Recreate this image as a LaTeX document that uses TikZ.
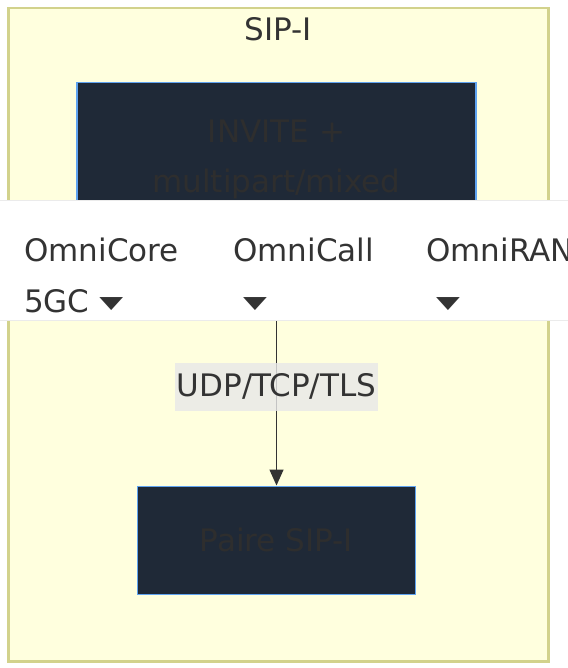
\documentclass[tikz,border=0pt]{standalone}
\usepackage{fontspec}
\setmainfont{DejaVu Sans}
\usetikzlibrary{arrows.meta,positioning}

\definecolor{clusterfill}{HTML}{FFFFDE}
\definecolor{clusterline}{HTML}{D2D28C}
\definecolor{nodefill}{HTML}{1F2937}
\definecolor{nodeline}{HTML}{5FA3F0}
\definecolor{nodetext}{HTML}{2E2E2E}
\definecolor{inktext}{HTML}{333333}
\definecolor{labelfill}{HTML}{E8E8E8}
\newcommand\caret{\raisebox{4pt}{\scalebox{1}[0.55]{▼}}}

\begin{document}
\begin{tikzpicture}[x=1pt,y=-1pt,>={Triangle[width=14pt,length=16pt]},font=\fontsize{31}{50}\selectfont]
  \tikzstyle{cluster}=[draw=clusterline,line width=2.5pt,fill=clusterfill,minimum width=540pt,minimum height=653pt,inner sep=0pt]
  \tikzstyle{box}=[draw=nodeline,line width=1.5pt,fill=nodefill,text=nodetext,align=center,inner sep=0pt]
  \tikzstyle{band}=[draw=black!8,line width=1pt,fill=white,minimum width=580pt,minimum height=120pt,inner sep=0pt]
  \tikzstyle{menuitem}=[anchor=north west,align=left,inner sep=0pt,text=inktext,font=\fontsize{31}{51}\selectfont]
  \useasboundingbox (0,0) rectangle (567,668);
  \node[cluster,anchor=north west] (sipi) at (7,7) {};
  \node[text=inktext,inner sep=0pt,below=10pt of sipi.north] (sipititle) {SIP-I};
  \node[box,minimum width=399pt,minimum height=204pt,anchor=north] (invite) at (276.5,82) {INVITE +\\multipart/mixed\\\phantom{p}};
  \node[box,minimum width=278pt,minimum height=108pt,below=198pt of invite] (paire) {Paire SIP-I};
  \draw[->,line width=1.5pt,draw=inktext] (invite) -- node[fill=labelfill,fill opacity=0.8,text opacity=1,text=inktext,inner xsep=2pt,inner ysep=0pt,minimum height=48pt] (proto) {UDP/TCP/TLS} (paire);
  % menu bar on top
  \node[band,anchor=north west] (menu) at (-6,200) {};
  \node[menuitem] (core) at (24,237.5) {OmniCore\\5GC \caret};
  \node[menuitem] (call) at (233,237.5) {OmniCall\\\ \caret};
  \node[menuitem] (ran) at (426,237.5) {OmniRAN\\\ \caret};
\end{tikzpicture}
\end{document}
